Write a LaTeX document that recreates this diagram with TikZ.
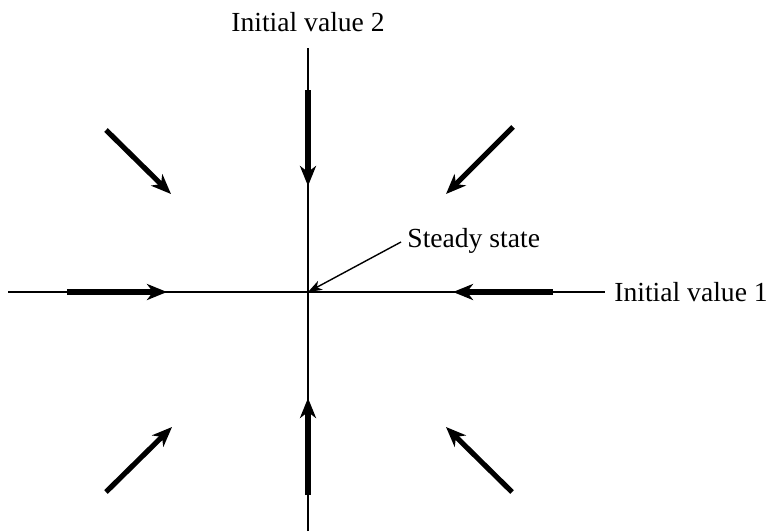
\documentclass[tikz,border=0pt]{standalone}
\usepackage{fontspec}
\setmainfont{Liberation Serif}
\usetikzlibrary{arrows.meta}
\tikzset{>={Stealth[length=10pt,width=8pt,inset=3pt]}}
\tikzset{
  axis/.style = {line width=1pt},
  flow/.style = {->,line width=2.6pt},
  pointer/.style = {-{Stealth[length=7pt,width=5pt,inset=2pt]},line width=0.7pt},
  caption/.style = {inner sep=0pt,font=\fontsize{13.8}{16}\selectfont}
}

\begin{document}
\begin{tikzpicture}[x=0.5pt,y=-0.5pt]
  \useasboundingbox (0,0) rectangle (775,531);
  \pgfmathsetmacro{\xnull}{308};
  \pgfmathsetmacro{\ynull}{292};
  \coordinate (steady) at (\xnull,\ynull);
  % axes
  \node[caption,anchor=west] (initone) at (614,\ynull) {Initial value 1};
  \node[caption] (inittwo) at (\xnull,22) {Initial value 2};
  \draw[axis] (8,\ynull) -- ([xshift=-4.5pt]initone.west);
  \draw[axis] (\xnull,531) -- (\xnull,48);
  % arrows on the axes
  \draw[flow] (67,\ynull) -- (167,\ynull);
  \draw[flow] (553,\ynull) -- (453,\ynull);
  \draw[flow] (\xnull,90) -- (\xnull,186);
  \draw[flow] (\xnull,495) -- (\xnull,398);
  % diagonal arrows
  \draw[flow] (106,130) -- (171,194);
  \draw[flow] (513,127) -- (446,194);
  \draw[flow] (106,492) -- (172,427);
  \draw[flow] (512,492) -- (446,427);
  % label of the steady state
  \node[caption,anchor=west] (label) at (407,241) {Steady state};
  \draw[pointer] (label.west) ++(-6,1) -- (steady);
\end{tikzpicture}
\end{document}
